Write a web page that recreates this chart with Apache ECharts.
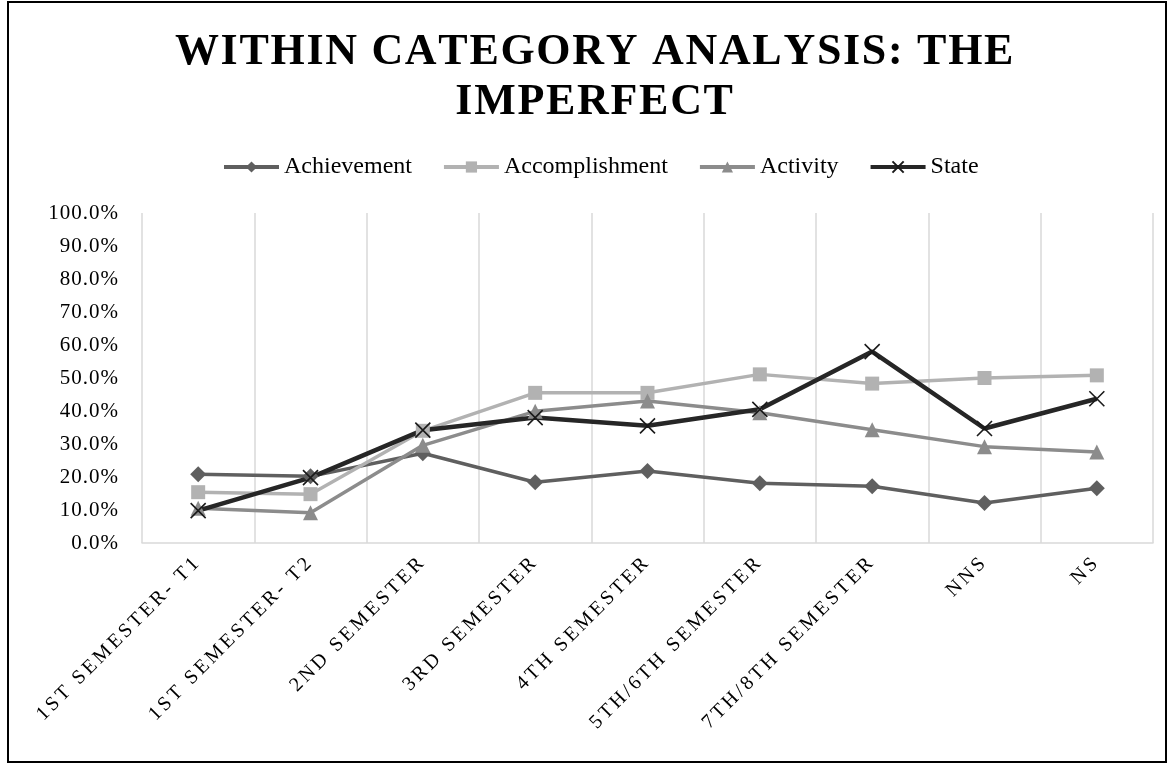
<!DOCTYPE html>
<html>
<head>
<meta charset="utf-8">
<script src="https://cdn.jsdelivr.net/npm/echarts@6/dist/echarts.min.js"></script>
<style>
  html, body { margin: 0; padding: 0; background: #fff; }
  #chart { width: 1172px; height: 765px; }
</style>
</head>
<body>
<div id="chart"></div>
<script>
// categories on the x axis
const semesters = ['1ST SEMESTER- T1', '1ST SEMESTER- T2', '2ND SEMESTER', '3RD SEMESTER',
  '4TH SEMESTER', '5TH/6TH SEMESTER', '7TH/8TH SEMESTER', 'NNS', 'NS']
// values in percent
const achievement = [20.8, 20.2, 27.2, 18.4, 21.8, 18.1, 17.2, 12.1, 16.6]
const accomplishment = [15.4, 14.8, 34.0, 45.5, 45.5, 51.1, 48.3, 50.0, 50.8]
const activity = [10.5, 9.2, 29.6, 39.9, 43.0, 39.5, 34.3, 29.2, 27.6]
const state = [9.8, 19.8, 34.2, 38.0, 35.5, 40.5, 58.0, 34.7, 43.7]

const serif = "'Liberation Serif', 'Times New Roman', serif"
const cross = 'path://M0,0L10,10M10,0L0,10'

// wrap every character in a rich token so the letters get some spacing (like the excel chart)
function spaced(text, key) {
  return text.split('\n').map(line =>
    line.split('').map(c => '{' + key + '|' + c + '}').join('')
  ).join('\n')
}

let mychart = echarts.init(document.getElementById('chart'))

function lineSeries(name, data, color, symbol, size, width) {
  return {
    name: name,
    type: 'line',
    data: data,
    symbol: symbol,
    symbolSize: size,
    showAllSymbol: true,
    lineStyle: { color: color, width: width },
    itemStyle: { color: color },
    emphasis: { disabled: true },
  }
}

const stateSeries = lineSeries('State', state, '#262626', cross, 15, 4.5)
stateSeries.itemStyle = { color: 'transparent', borderColor: '#1a1a1a', borderWidth: 1.6 }

mychart.setOption({
  animation: false,
  title: {
    text: spaced('WITHIN CATEGORY ANALYSIS: THE\nIMPERFECT', 't'),
    left: 590,
    textAlign: 'center',
    top: 23,
    textStyle: {
      fontFamily: serif,
      fontSize: 44,
      fontWeight: 'bold',
      color: '#000',
      lineHeight: 50,
      rich: {
        t: {
          fontFamily: serif,
          fontSize: 44,
          fontWeight: 'bold',
          color: '#000',
          lineHeight: 50,
          padding: [0, 1.7, 0, 0],
        },
      },
    },
  },
  legend: {
    top: 150,
    left: 217,
    itemWidth: 55,
    itemHeight: 14,
    itemGap: 30,
    lineStyle: { width: 4 },
    textStyle: { fontFamily: serif, fontSize: 24, color: '#000' },
    data: ['Achievement', 'Accomplishment', 'Activity', 'State'],
  },
  grid: { left: 142, right: 19, top: 213, bottom: 222 },
  xAxis: {
    type: 'category',
    data: semesters,
    boundaryGap: true,
    axisLine: { lineStyle: { color: '#d9d9d9', width: 1.5 } },
    axisTick: { show: false },
    splitLine: { show: true, lineStyle: { color: '#d9d9d9', width: 1.5 } },
    axisLabel: {
      interval: 0,
      rotate: 45,
      margin: 16,
      fontFamily: serif,
      fontSize: 20,
      color: '#000',
      formatter: (v) => spaced(v, 'x'),
      rich: {
        x: { fontFamily: serif, fontSize: 20, color: '#000', padding: [0, 3.1, 0, 0] },
      },
    },
  },
  yAxis: {
    type: 'value',
    min: 0,
    max: 100,
    interval: 10,
    axisLine: { show: false },
    axisTick: { show: false },
    splitLine: { show: false },
    axisLabel: {
      margin: 23,
      fontFamily: serif,
      fontSize: 21,
      color: '#000',
      formatter: (v) => spaced(v.toFixed(1) + '%', 'y'),
      rich: {
        y: { fontFamily: serif, fontSize: 21, color: '#000', padding: [0, 1, 0, 0] },
      },
    },
  },
  graphic: [
    {
      type: 'rect',
      shape: { x: 8, y: 2, width: 1158, height: 760 },
      style: { fill: 'none', stroke: '#000', lineWidth: 2 },
      silent: true,
    },
  ],
  series: [
    lineSeries('Achievement', achievement, '#5f5f5f', 'diamond', 16, 3.5),
    lineSeries('Accomplishment', accomplishment, '#b2b2b2', 'rect', 14, 3.5),
    lineSeries('Activity', activity, '#8c8c8c', 'triangle', 15, 3.5),
    stateSeries,
  ],
})
</script>
</body>
</html>
